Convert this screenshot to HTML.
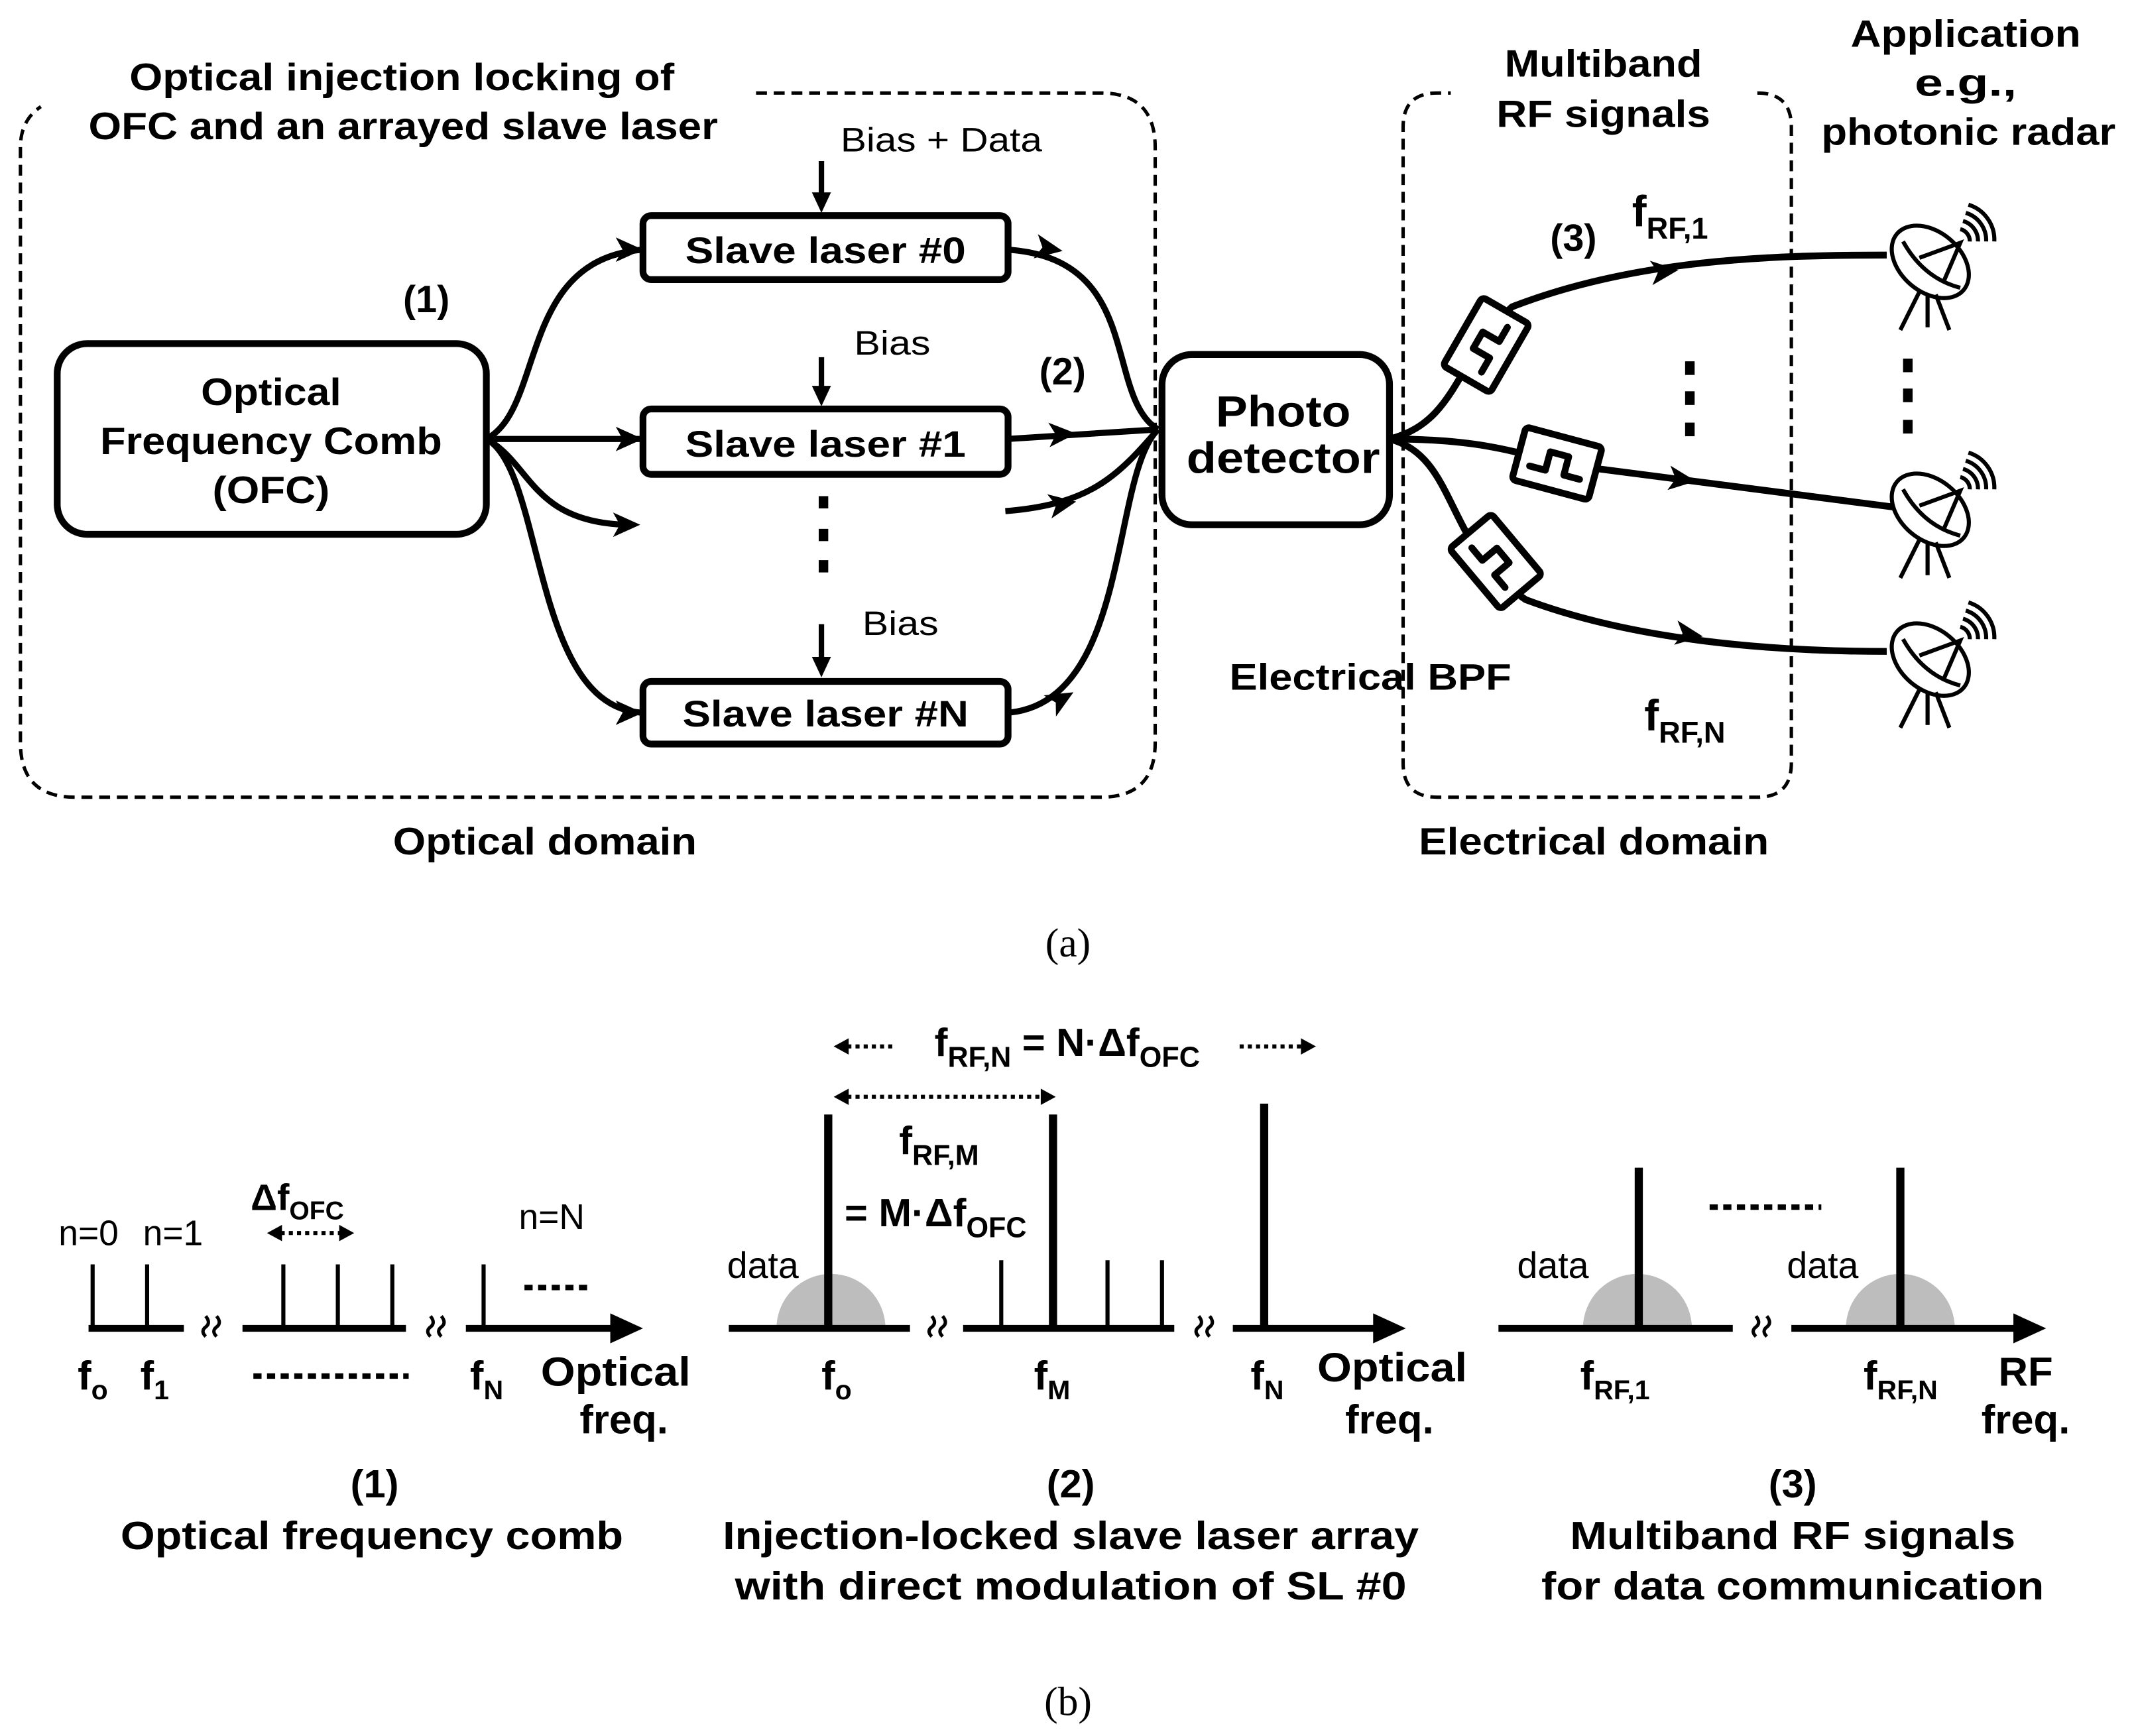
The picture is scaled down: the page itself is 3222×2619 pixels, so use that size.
<!DOCTYPE html>
<html><head><meta charset="utf-8"><style>
html,body{margin:0;padding:0;background:#fff;}
svg{display:block;}
text{font-family:"Liberation Sans",sans-serif;font-weight:bold;fill:#000;}
.n{font-weight:normal;}
.s{font-family:"Liberation Serif",serif;font-weight:normal;}
</style></head><body>
<svg width="3222" height="2619" viewBox="0 0 1568 1274" xmlns="http://www.w3.org/2000/svg">
<defs>
<g id="filt">
<rect x="-29" y="-20" width="58" height="40" rx="3" fill="#fff" stroke="#000" stroke-width="5"/>
<path d="M-19,7 H-7 V-7 H7 V7 H19" fill="none" stroke="#000" stroke-width="5" stroke-linecap="round" stroke-linejoin="round"/>
</g>
<g id="ant" fill="none" stroke="#000" stroke-width="3">
<ellipse cx="0" cy="0" rx="32" ry="22" transform="rotate(40)"/>
<path d="M-20,-15 Q-5,12 22,19" />
<path d="M-8,-3 L22,-14 L10,14"/>
<path d="M-8,22 L-22,50 M-2,24 L-2,48 M4,24 L14,50"/>
<path d="M22,-24 A9,9 0 0 1 29,-15 M24,-30 A15,15 0 0 1 35,-15 M26,-36 A21,21 0 0 1 41,-15 M28,-42 A27,27 0 0 1 47,-15"/>
</g>
<g id="brk" stroke="#000" stroke-width="2.5" fill="none"><path d="M-4,9 q-4,-4 0,-7 q4,-3 0,-8 M4,9 q-4,-4 0,-7 q4,-3 0,-8"/></g>
<path id="ah" d="M0,0 l-20,-9 l5,9 l-5,9z"/>
</defs>

<!-- dashed boxes -->
<path d="M555,68 H808 Q848,68 848,108 V545 Q848,585 808,585 H55 Q15,585 15,545 V108 Q15,88 30,78" fill="none" stroke="#000" stroke-width="2.5" stroke-dasharray="8,5"/>
<path d="M1290,68 Q1315,68 1315,93 V560 Q1315,585 1290,585 H1055 Q1030,585 1030,560 V93 Q1030,68 1055,68 H1065" fill="none" stroke="#000" stroke-width="2.5" stroke-dasharray="8,5"/>

<text x="295" y="66" font-size="28" text-anchor="middle" textLength="400" lengthAdjust="spacingAndGlyphs">Optical injection locking of</text>
<text x="296" y="102" font-size="28" text-anchor="middle" textLength="462" lengthAdjust="spacingAndGlyphs">OFC and an arrayed slave laser</text>
<text x="1177" y="56" font-size="28" text-anchor="middle" textLength="145" lengthAdjust="spacingAndGlyphs">Multiband</text>
<text x="1177" y="93" font-size="28" text-anchor="middle" textLength="157" lengthAdjust="spacingAndGlyphs">RF signals</text>
<text x="1443" y="34" font-size="28" text-anchor="middle" textLength="169" lengthAdjust="spacingAndGlyphs">Application</text>
<text x="1443" y="70" font-size="28" text-anchor="middle" textLength="75" lengthAdjust="spacingAndGlyphs">e.g.,</text>
<text x="1445" y="106" font-size="28" text-anchor="middle" textLength="216" lengthAdjust="spacingAndGlyphs">photonic radar</text>

<!-- OFC -->
<rect x="42" y="252" width="315" height="140" rx="22" fill="#fff" stroke="#000" stroke-width="5"/>
<text x="199" y="297" font-size="28" text-anchor="middle" textLength="103" lengthAdjust="spacingAndGlyphs">Optical</text>
<text x="199" y="333" font-size="28" text-anchor="middle" textLength="251" lengthAdjust="spacingAndGlyphs">Frequency Comb</text>
<text x="199" y="369" font-size="28" text-anchor="middle" textLength="86" lengthAdjust="spacingAndGlyphs">(OFC)</text>
<text x="313" y="229" font-size="28" text-anchor="middle">(1)</text>

<!-- optical paths -->
<g fill="none" stroke="#000" stroke-width="4.5">
<path d="M357,322 C400,300 380,190 472,183"/>
<path d="M357,322 L470,322"/>
<path d="M357,322 C390,340 390,383 460,385"/>
<path d="M357,322 C400,345 390,520 472,523"/>
<path d="M740,183 C840,190 810,290 850,315"/>
<path d="M740,322 L850,315"/>
<path d="M738,375 C800,370 820,350 850,315"/>
<path d="M740,523 C830,515 815,350 850,315"/>
</g>
<g fill="#000">
<use href="#ah" transform="translate(472,183)"/>
<use href="#ah" transform="translate(472,322)"/>
<use href="#ah" transform="translate(470,385)"/>
<use href="#ah" transform="translate(472,523)"/>
<use href="#ah" transform="translate(780,184) rotate(10)"/>
<use href="#ah" transform="translate(790,318) rotate(-3)"/>
<use href="#ah" transform="translate(790,368) rotate(-10)"/>
<use href="#ah" transform="translate(788,508) rotate(-30)"/>
</g>

<!-- slave lasers -->
<g fill="#fff" stroke="#000" stroke-width="5">
<rect x="472" y="158" width="268" height="47" rx="6"/>
<rect x="472" y="300" width="268" height="48" rx="6"/>
<rect x="472" y="500" width="268" height="46" rx="6"/>
</g>
<text x="606" y="193" font-size="27" text-anchor="middle" textLength="206" lengthAdjust="spacingAndGlyphs">Slave laser #0</text>
<text x="606" y="335" font-size="27" text-anchor="middle" textLength="206" lengthAdjust="spacingAndGlyphs">Slave laser #1</text>
<text x="606" y="533" font-size="27" text-anchor="middle" textLength="210" lengthAdjust="spacingAndGlyphs">Slave laser #N</text>
<text x="691" y="111" font-size="25" class="n" text-anchor="middle" textLength="148" lengthAdjust="spacingAndGlyphs">Bias + Data</text>
<text x="655" y="260" font-size="25" class="n" text-anchor="middle" textLength="56" lengthAdjust="spacingAndGlyphs">Bias</text>
<text x="661" y="466" font-size="25" class="n" text-anchor="middle" textLength="56" lengthAdjust="spacingAndGlyphs">Bias</text>
<g stroke="#000" stroke-width="4"><path d="M603,118 V145"/><path d="M603,262 V287"/><path d="M603,458 V487"/></g>
<g fill="#000"><path d="M603,156 l-7,-15 h14z"/><path d="M603,298 l-7,-15 h14z"/><path d="M603,497 l-7,-15 h14z"/></g>
<g fill="#000"><rect x="601" y="364" width="7" height="9"/><rect x="601" y="388" width="7" height="9"/><rect x="601" y="411" width="7" height="9"/></g>
<text x="780" y="282" font-size="28" text-anchor="middle">(2)</text>

<!-- photodetector -->
<rect x="853" y="260" width="167" height="125" rx="22" fill="#fff" stroke="#000" stroke-width="5"/>
<text x="942" y="313" font-size="32" text-anchor="middle" textLength="99" lengthAdjust="spacingAndGlyphs">Photo</text>
<text x="942" y="347" font-size="32" text-anchor="middle" textLength="142" lengthAdjust="spacingAndGlyphs">detector</text>

<!-- electrical paths -->
<g fill="none" stroke="#000" stroke-width="5">
<path d="M1020,322 C1070,310 1070,260 1110,225 C1200,190 1300,187 1385,187"/>
<path d="M1020,322 C1080,322 1110,330 1143,340 L1390,372"/>
<path d="M1020,322 C1070,335 1060,400 1120,440 C1200,470 1300,478 1385,478"/>
</g>
<g fill="#000">
<use href="#ah" transform="translate(1232,198) rotate(-6)"/>
<use href="#ah" transform="translate(1245,353) rotate(7)"/>
<use href="#ah" transform="translate(1250,467) rotate(8)"/>
</g>
<use href="#filt" transform="translate(1091,253) rotate(-60)"/>
<use href="#filt" transform="translate(1143,340) rotate(15)"/>
<use href="#filt" transform="translate(1098,412) rotate(50)"/>
<text x="1155" y="184" font-size="28" text-anchor="middle">(3)</text>
<text x="1198" y="166" font-size="32">f<tspan font-size="22" dy="9">RF,1</tspan></text>
<text x="1207" y="536" font-size="32">f<tspan font-size="22" dy="9">RF,N</tspan></text>
<text x="1006" y="506" font-size="27" text-anchor="middle" textLength="207" lengthAdjust="spacingAndGlyphs">Electrical BPF</text>
<g fill="#000"><rect x="1237" y="265" width="7" height="10"/><rect x="1237" y="287" width="7" height="10"/><rect x="1237" y="310" width="7" height="10"/>
<rect x="1397" y="263" width="7" height="10"/><rect x="1397" y="285" width="7" height="10"/><rect x="1397" y="308" width="7" height="10"/></g>
<use href="#ant" transform="translate(1417,192)"/>
<use href="#ant" transform="translate(1417,374)"/>
<use href="#ant" transform="translate(1417,484)"/>

<text x="400" y="627" font-size="28" text-anchor="middle" textLength="223" lengthAdjust="spacingAndGlyphs">Optical domain</text>
<text x="1170" y="627" font-size="28" text-anchor="middle" textLength="257" lengthAdjust="spacingAndGlyphs">Electrical domain</text>
<text x="784" y="702" font-size="30" class="s" text-anchor="middle">(a)</text>

<!-- (b) panel 1 -->
<g stroke="#000" stroke-width="5" fill="none">
<path d="M65,975 H135 M178,975 H298 M342,975 H458"/>
</g>
<path d="M472,975 l-24,-11 v22z" fill="#000"/>
<g stroke="#000" stroke-width="3"><path d="M68,975 V928 M108,975 V928 M208,975 V928 M248,975 V928 M288,975 V928 M355,975 V928"/></g>
<use href="#brk" transform="translate(155,972)"/>
<use href="#brk" transform="translate(320,972)"/>
<text x="65" y="914" font-size="26" class="n" text-anchor="middle">n=0</text>
<text x="127" y="914" font-size="26" class="n" text-anchor="middle">n=1</text>
<text x="184" y="888" font-size="27">Δf<tspan font-size="19" dy="7">OFC</tspan></text>
<path d="M206,905 H250" stroke="#000" stroke-width="3" stroke-dasharray="3,3"/>
<path d="M196,905 l11,-6 v12z M260,905 l-11,-6 v12z" fill="#000"/>
<text x="405" y="902" font-size="26" class="n" text-anchor="middle">n=N</text>
<path d="M385,945 H432" stroke="#000" stroke-width="4" stroke-dasharray="6,4"/>
<path d="M186,1010 H300" stroke="#000" stroke-width="4" stroke-dasharray="6,4"/>
<text x="57" y="1020" font-size="30">f<tspan font-size="20" dy="7">o</tspan></text>
<text x="103" y="1020" font-size="30">f<tspan font-size="20" dy="7">1</tspan></text>
<text x="345" y="1020" font-size="30">f<tspan font-size="20" dy="7">N</tspan></text>
<text x="452" y="1017" font-size="30" text-anchor="middle" textLength="110" lengthAdjust="spacingAndGlyphs">Optical</text>
<text x="458" y="1052" font-size="30" text-anchor="middle">freq.</text>
<text x="275" y="1099" font-size="29" text-anchor="middle">(1)</text>
<text x="273" y="1137" font-size="29" text-anchor="middle" textLength="369" lengthAdjust="spacingAndGlyphs">Optical frequency comb</text>

<!-- (b) panel 2 -->
<path d="M570,975 A40,40 0 0 1 650,975z" fill="#bdbdbd"/>
<g stroke="#000" stroke-width="5" fill="none"><path d="M535,975 H668 M707,975 H862 M905,975 H1018"/></g>
<path d="M1032,975 l-24,-11 v22z" fill="#000"/>
<use href="#brk" transform="translate(688,972)"/>
<use href="#brk" transform="translate(884,972)"/>
<g stroke="#000"><path d="M608,975 V818" stroke-width="6"/><path d="M773,975 V818" stroke-width="6"/><path d="M928,975 V810" stroke-width="6"/>
<path d="M735,975 V925 M813,975 V925 M853,975 V925" stroke-width="3"/></g>
<text x="560" y="938" font-size="27" class="n" text-anchor="middle">data</text>
<text x="603" y="1020" font-size="30">f<tspan font-size="20" dy="7">o</tspan></text>
<text x="759" y="1020" font-size="30">f<tspan font-size="20" dy="7">M</tspan></text>
<text x="918" y="1020" font-size="30">f<tspan font-size="20" dy="7">N</tspan></text>
<text x="1022" y="1014" font-size="30" text-anchor="middle" textLength="110" lengthAdjust="spacingAndGlyphs">Optical</text>
<text x="1020" y="1052" font-size="30" text-anchor="middle">freq.</text>
<g stroke="#000" stroke-width="3" stroke-dasharray="3,3"><path d="M622,768 H655 M910,768 H955 M622,805 H765"/></g>
<path d="M612,768 l11,-6 v12z M966,768 l-11,-6 v12z M612,805 l11,-6 v12z M775,805 l-11,-6 v12z" fill="#000"/>
<text x="686" y="775" font-size="29">f<tspan font-size="21" dy="8">RF,N</tspan><tspan dy="-8"> = N·Δf</tspan><tspan font-size="21" dy="8">OFC</tspan></text>
<text x="660" y="847" font-size="29">f<tspan font-size="21" dy="8">RF,M</tspan></text>
<text x="620" y="900" font-size="29">= M·Δf<tspan font-size="21" dy="8">OFC</tspan></text>
<text x="786" y="1099" font-size="29" text-anchor="middle">(2)</text>
<text x="786" y="1137" font-size="29" text-anchor="middle" textLength="511" lengthAdjust="spacingAndGlyphs">Injection-locked slave laser array</text>
<text x="786" y="1174" font-size="29" text-anchor="middle" textLength="493" lengthAdjust="spacingAndGlyphs">with direct modulation of SL  #0</text>

<!-- (b) panel 3 -->
<path d="M1162,975 A40,40 0 0 1 1242,975z" fill="#bdbdbd"/>
<path d="M1355,975 A40,40 0 0 1 1435,975z" fill="#bdbdbd"/>
<g stroke="#000" stroke-width="5" fill="none"><path d="M1100,975 H1272 M1315,975 H1488"/></g>
<path d="M1502,975 l-24,-11 v22z" fill="#000"/>
<use href="#brk" transform="translate(1293,972)"/>
<g stroke="#000" stroke-width="6"><path d="M1203,975 V857 M1395,975 V857"/></g>
<path d="M1255,886 H1337" stroke="#000" stroke-width="4" stroke-dasharray="6,4"/>
<text x="1140" y="938" font-size="27" class="n" text-anchor="middle">data</text>
<text x="1338" y="938" font-size="27" class="n" text-anchor="middle">data</text>
<text x="1160" y="1020" font-size="30">f<tspan font-size="20" dy="7">RF,1</tspan></text>
<text x="1368" y="1020" font-size="30">f<tspan font-size="20" dy="7">RF,N</tspan></text>
<text x="1487" y="1017" font-size="30" text-anchor="middle">RF</text>
<text x="1487" y="1052" font-size="30" text-anchor="middle">freq.</text>
<text x="1316" y="1099" font-size="29" text-anchor="middle">(3)</text>
<text x="1316" y="1137" font-size="29" text-anchor="middle" textLength="327" lengthAdjust="spacingAndGlyphs">Multiband RF signals</text>
<text x="1316" y="1174" font-size="29" text-anchor="middle" textLength="369" lengthAdjust="spacingAndGlyphs">for data communication</text>

<text x="784" y="1259" font-size="30" class="s" text-anchor="middle">(b)</text>
</svg>
</body></html>
